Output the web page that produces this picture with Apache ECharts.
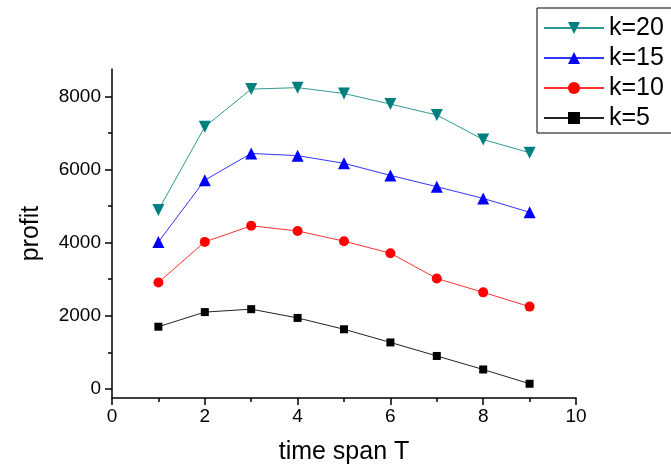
<!DOCTYPE html>
<html>
<head>
<meta charset="utf-8">
<script src="https://cdn.jsdelivr.net/npm/echarts@6/dist/echarts.min.js"></script>
<style>
  html,body{margin:0;padding:0;background:#fff;}
  #chart{width:671px;height:472px;}
</style>
</head>
<body>
<div id="chart"></div>
<script>
// ===== data =====
const T = [1, 2, 3, 4, 5, 6, 7, 8, 9];
const k20 = [4890, 7170, 8200, 8240, 8080, 7790, 7490, 6820, 6460];
const k15 = [4020, 5710, 6440, 6380, 6170, 5840, 5530, 5210, 4830];
const k10 = [2910, 4020, 4460, 4320, 4040, 3710, 3020, 2640, 2250];
const k5  = [1700, 2100, 2180, 1940, 1630, 1270, 900, 530, 140];
const yMajor = [0, 2000, 4000, 6000, 8000];
const yMinor = [1000, 3000, 5000, 7000];

const FONT = '"Liberation Sans", Arial, sans-serif';
const pts = arr => arr.map((v, i) => [T[i], v]);

const chart = echarts.init(document.getElementById('chart'), null, {renderer: 'canvas'});

function mkSeries(name, data, color, lineColor, symbol, size, rot){
  return {
    name, type: 'line', data: pts(data),
    symbol, symbolSize: size, symbolRotate: rot || 0,
    itemStyle: {color},
    lineStyle: {color: lineColor, width: 1},
    emphasis: {disabled: true},
    z: 3
  };
}

chart.setOption({
  backgroundColor: '#fff',
  animation: false,
  grid: {left: 112, right: 95, top: 69, bottom: 74},
  legend: {
    data: ['k=20', 'k=15', 'k=10', 'k=5'],
    orient: 'vertical', left: 537, top: 8,
    padding: [5, 20, 0, 6],
    itemWidth: 60, itemHeight: 15, itemGap: 0,
    borderColor: '#000', borderWidth: 1,
    textStyle: {fontFamily: FONT, fontSize: 25, color: '#000', lineHeight: 30}
  },
  xAxis: {
    type: 'value', min: 0, max: 10, interval: 2,
    name: 'time span T', nameLocation: 'middle', nameGap: 42,
    nameTextStyle: {fontFamily: FONT, fontSize: 25, color: '#000'},
    axisLine: {show: true, onZero: false, lineStyle: {color: '#000', width: 1.5}},
    axisTick: {show: true, inside: false, length: 7, lineStyle: {color: '#000', width: 1.5}},
    minorTick: {show: true, splitNumber: 2, length: 4, lineStyle: {color: '#000', width: 1.5}},
    axisLabel: {fontFamily: FONT, fontSize: 19, color: '#000', margin: 9},
    splitLine: {show: false}, minorSplitLine: {show: false}
  },
  yAxis: [{
    type: 'value', min: -250, max: 8750,
    name: 'profit', nameLocation: 'middle', nameGap: 68, nameRotate: 90,
    nameTextStyle: {fontFamily: FONT, fontSize: 25, color: '#000'},
    axisLine: {show: true, onZero: false, lineStyle: {color: '#000', width: 1.5}},
    axisTick: {show: true, inside: false, length: 7, customValues: yMajor, lineStyle: {color: '#000', width: 1.5}},
    axisLabel: {fontFamily: FONT, fontSize: 19, color: '#000', margin: 11, customValues: yMajor,
      formatter: v => String(v)},
    splitLine: {show: false}
  }, {
    type: 'value', min: -250, max: 8750, position: 'left', offset: 0,
    axisLine: {show: false},
    axisTick: {show: true, inside: false, length: 4, customValues: yMinor, lineStyle: {color: '#000', width: 1.5}},
    axisLabel: {show: false, customValues: yMinor},
    splitLine: {show: false}
  }],
  series: [
    mkSeries('k=20', k20, '#007f7f', '#2f9a94', 'triangle', 12, 180),
    mkSeries('k=15', k15, '#0000ff', '#3333ff', 'triangle', 12),
    mkSeries('k=10', k10, '#ff0000', '#ff3333', 'circle', 10),
    mkSeries('k=5',  k5,  '#000000', '#222222', 'rect', 8)
  ]
});

window.addEventListener('resize', () => chart.resize());
</script>
</body>
</html>
